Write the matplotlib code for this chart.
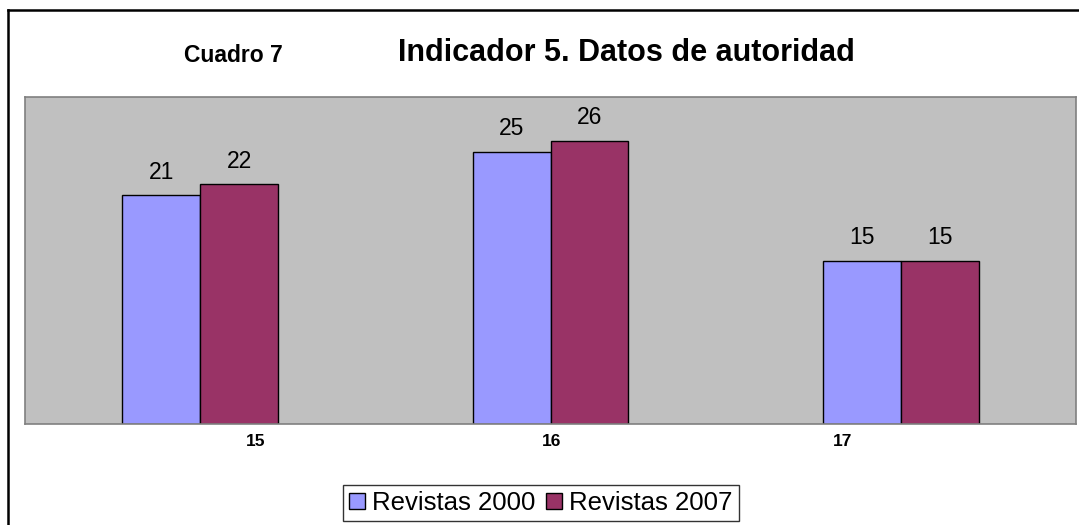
import matplotlib
matplotlib.use("Agg")
import matplotlib.pyplot as plt
from matplotlib.lines import Line2D
import numpy as np

plt.rcParams['font.family'] = ['Liberation Sans', 'DejaVu Sans']

# data
categories = ["15", "16", "17"]
revistas_2000 = [21, 25, 15]
revistas_2007 = [22, 26, 15]
series_names = ["Revistas 2000", "Revistas 2007"]
# category labels in the original sit off-centre
tick_offsets = [0.157, 0.004, -0.165]

W, H = 1079, 525
fig = plt.figure(figsize=(W / 100, H / 100), dpi=100)
fig.patch.set_facecolor('white')

ax = fig.add_axes([25 / W, 1 - 424 / H, 1051 / W, 327 / H])
ax.set_facecolor('#C0C0C0')
for s in ax.spines.values():
    s.set_color('#808080')
    s.set_linewidth(1.2)

x = np.arange(len(categories))
bw = 0.2226
b1 = ax.bar(x - bw, revistas_2000, width=bw, align='edge', color='#9999FF',
            edgecolor='black', linewidth=1, label=series_names[0])
b2 = ax.bar(x, revistas_2007, width=bw, align='edge', color='#993366',
            edgecolor='black', linewidth=1, label=series_names[1])

# value labels above each bar
for bars in (b1, b2):
    for r in bars:
        ax.annotate(f"{r.get_height():g}", (r.get_x() + r.get_width() / 2, r.get_height()),
                    xytext=(0, 16.5), textcoords='offset points', ha='center', va='center',
                    fontsize=16.5)

ax.set_xlim(-0.5, len(categories) - 0.5)
ax.set_ylim(0, 30)
ax.set_yticks([])
ax.set_xticks(x + np.array(tick_offsets))
ax.set_xticklabels(categories, fontsize=12.5, fontweight='bold')
ax.tick_params(axis='x', length=0, pad=7)

fig.text(626 / W, 1 - 53 / H, "Indicador 5. Datos de autoridad", ha='center', va='center',
         fontsize=22, fontweight='bold')
fig.text(233 / W, 1 - 55 / H, "Cuadro 7", ha='center', va='center',
         fontsize=16.5, fontweight='bold')

leg = fig.legend(loc='center', bbox_to_anchor=(541 / W, 1 - 503 / H), ncol=2, fontsize=18.5,
                 frameon=True, fancybox=False, handlelength=0.6, handleheight=0.6,
                 handletextpad=0.3, columnspacing=0.4, borderpad=0.25, borderaxespad=0)
leg.get_frame().set_edgecolor('black')
leg.get_frame().set_linewidth(1)

# outer chart border (top and left visible)
fig.add_artist(Line2D([8 / W, 1.0], [1 - 10 / H, 1 - 10 / H], transform=fig.transFigure,
                      color='black', linewidth=1.8))
fig.add_artist(Line2D([8 / W, 8 / W], [0, 1 - 10 / H], transform=fig.transFigure,
                      color='black', linewidth=1.8))

fig.savefig("out.png", dpi=100)
